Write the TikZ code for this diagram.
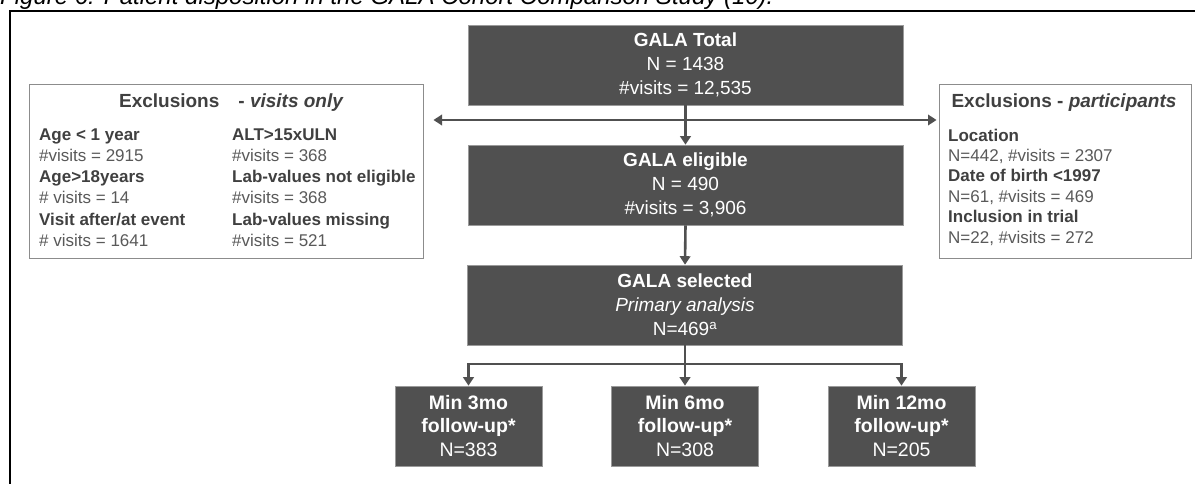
\documentclass[tikz,border=0pt]{standalone}
\usepackage{fontspec}
\setmainfont{Liberation Sans}
\usetikzlibrary{arrows.meta}

\definecolor{boxfill}{HTML}{505050}
\definecolor{boxline}{HTML}{9A9A9A}
\definecolor{headtxt}{HTML}{404040}
\definecolor{bodytxt}{HTML}{595959}
\definecolor{paneline}{HTML}{8C8C8C}

% criterion heading and its count inside the exclusion panels
\newcommand{\excl}[1]{{\bfseries\color{headtxt}#1}}
\newcommand{\tally}[1]{{\color{bodytxt}#1}}

\begin{document}
\begin{tikzpicture}[x=1pt,y=-1pt,
  stage/.style={rectangle, fill=boxfill, draw=boxline, line width=0.6pt,
    text=white, align=center, inner sep=0pt,
    minimum width=435pt, minimum height=80pt,
    font=\fontsize{19}{24}\selectfont},
  follow/.style={stage, minimum width=147pt,
    font=\fontsize{19.5}{23.5}\selectfont},
  panel/.style={rectangle, draw=paneline, line width=1pt, fill=white,
    inner sep=0pt, minimum height=173pt},
  panelhead/.style={inner sep=0pt, text=headtxt,
    font=\fontsize{19}{23}\selectfont\bfseries},
  panelbody/.style={anchor=north west, align=left, inner sep=0pt},
  conn/.style={draw=boxfill, line width=2.6pt},
  arr/.style={conn, -{Triangle[length=8.5pt,width=10.5pt]}}]

\useasboundingbox (0,0) rectangle (1195,484);
\clip (0,0) rectangle (1195,484);

% caption line and figure frame
\node[anchor=base west, inner sep=0pt, font=\fontsize{24}{28}\selectfont\itshape]
  (caption) at (0,5) {Figure 6: Patient disposition in the GALA Cohort Comparison Study (10).};
\draw[line width=2pt] (10,490) -- (10,11) -- (1200,11);

% main stages
\node[stage] (total) at (685.5,65)
  {\textbf{GALA Total}\\N = 1438\\\#visits = 12,535};
\node[stage] (elig) at (685.5,185)
  {\textbf{GALA eligible}\\N = 490\\\#visits = 3,906};
\node[stage] (sel) at (685,305)
  {\textbf{GALA selected}\\\textit{Primary analysis}\\N=469\textsuperscript{a}};

% follow-up subsets
\node[follow] (fu3) at (468.5,426)
  {\textbf{Min 3mo}\\\textbf{follow-up*}\\N=383};
\node[follow] (fu6) at (685,426)
  {\textbf{Min 6mo}\\\textbf{follow-up*}\\N=308};
\node[follow] (fu12) at (901.5,426)
  {\textbf{Min 12mo}\\\textbf{follow-up*}\\N=205};

% exclusions: visits only
\node[panel, minimum width=394pt] (visits) at (226,171.5) {};
\node[panelhead] (visitshead) at (231,103)
  {Exclusions\quad- \itshape visits only};
\node[panelbody, font=\fontsize{17}{21.2}\selectfont] (visitsA) at (39,128.5)
  {\excl{Age < 1 year}\\\tally{\#visits = 2915}\\
   \excl{Age>18years}\\\tally{\# visits = 14}\\
   \excl{Visit after/at event}\\\tally{\# visits = 1641}};
\node[panelbody, font=\fontsize{17}{21.2}\selectfont] (visitsB) at (232,128.5)
  {\excl{ALT>15xULN}\\\tally{\#visits = 368}\\
   \excl{Lab-values not eligible}\\\tally{\#visits = 368}\\
   \excl{Lab-values missing}\\\tally{\#visits = 521}};

% exclusions: participants
\node[panel, minimum width=252pt] (parts) at (1065,171.5) {};
\node[panelhead] (partshead) at (1064,103)
  {Exclusions - \itshape participants};
\node[panelbody, font=\fontsize{17}{20.4}\selectfont] (partsA) at (948,128.5)
  {\excl{Location}\\\tally{N=442, \#visits = 2307}\\
   \excl{Date of birth <1997}\\\tally{N=61, \#visits = 469}\\
   \excl{Inclusion in trial}\\\tally{N=22, \#visits = 272}};

% connectors
\coordinate (split) at (total.south |- 0,120);
\coordinate (fork) at (sel.south |- 0,364);
\draw[arr] (total.south) -- (elig.north);
\draw[arr, shorten >=10pt] (split) -- (visits.east |- split);
\draw[arr, shorten >=2pt] (split) -- (parts.west |- split);
\draw[arr] (elig.south) -- (sel.north);
\draw[arr] (sel.south) -- (fu6.north);
\draw[arr] (fork) -| (fu3.north);
\draw[arr] (fork) -| (fu12.north);
\end{tikzpicture}
\end{document}
